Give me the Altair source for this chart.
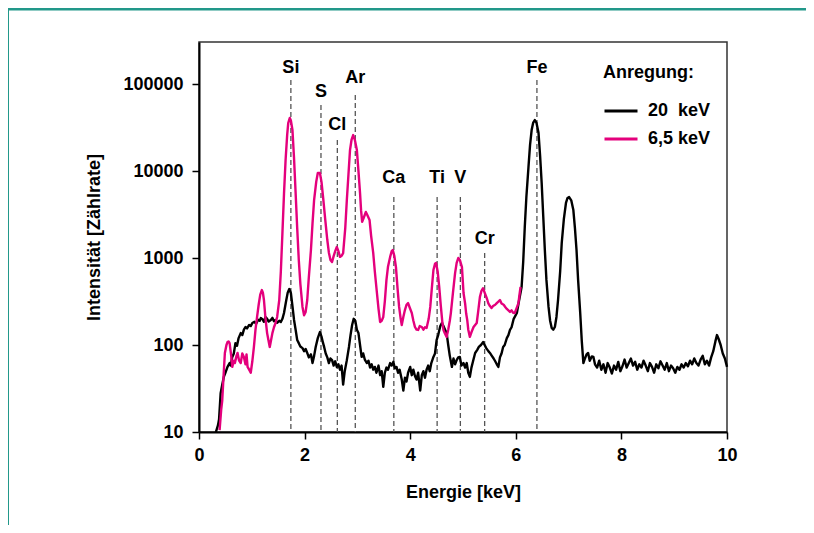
import altair as alt
import pandas as pd

# ---- data ----
e20 = [0.32,0.36,0.38,0.41,0.44,0.47,0.50,0.54,0.58,0.60,0.63,0.66,0.69,0.72,0.75,0.79,0.82,0.85,0.88,0.91,
       0.95,0.98,1.01,1.05,1.08,1.12,1.15,1.17,1.20,1.23,1.26,1.29,1.32,1.36,1.39,1.42,1.45,1.48,1.52,1.55,
       1.58,1.61,1.65,1.68,1.71,1.74,1.77,1.80,1.83,1.86,1.89,1.92,1.96,1.99,2.02,2.05,2.08,2.12,2.15,2.18,
       2.21,2.25,2.29,2.32,2.35,2.37,2.40,2.43,2.46,2.49,2.52,2.55,2.58,2.61,2.64,2.67,2.70,2.73,2.76,2.80,
       2.84,2.87,2.90,2.93,2.96,2.99,3.02,3.05,3.08,3.11,3.14,3.18,3.21,3.24,3.27,3.30,3.33,3.36,3.40,3.43,
       3.46,3.49,3.52,3.55,3.58,3.62,3.65,3.68,3.71,3.74,3.77,3.80,3.84,3.87,3.90,3.93,3.96,4.00,4.03,4.06,
       4.09,4.12,4.15,4.19,4.22,4.25,4.28,4.31,4.34,4.37,4.40,4.44,4.47,4.50,4.53,4.57,4.60,4.63,4.66,4.69,
       4.72,4.75,4.79,4.82,4.85,4.88,4.91,4.94,4.97,5.01,5.04,5.07,5.10,5.13,5.16,5.19,5.23,5.27,5.30,5.34,
       5.38,5.41,5.44,5.48,5.51,5.54,5.58,5.61,5.64,5.67,5.70,5.73,5.76,5.79,5.83,5.86,5.89,5.92,5.96,6.02,
       6.06,6.11,6.14,6.17,6.20,6.24,6.27,6.30,6.33,6.36,6.39,6.43,6.46,6.49,6.52,6.55,6.58,6.62,6.65,6.68,
       6.71,6.74,6.77,6.80,6.84,6.87,6.91,6.95,6.98,7.01,7.05,7.09,7.12,7.15,7.18,7.22,7.25,7.28,7.31,7.34,
       7.37,7.40,7.44,7.47,7.50,7.54,7.58,7.62,7.66,7.70,7.74,7.78,7.82,7.86,7.90,7.94,7.98,8.02,8.06,8.10,
       8.14,8.18,8.22,8.26,8.30,8.34,8.38,8.42,8.46,8.50,8.54,8.58,8.62,8.66,8.70,8.74,8.78,8.82,8.86,8.90,
       8.94,8.98,9.02,9.06,9.10,9.14,9.18,9.22,9.26,9.30,9.34,9.38,9.42,9.46,9.50,9.54,9.58,9.62,9.66,9.70,
       9.74,9.78,9.81,9.84,9.88,9.92,9.96,10.0]
c20 = [10,12,14,28,35,43,48,56,62,58,73,80,105,98,120,137,130,150,161,155,
       170,165,179,185,175,195,190,204,198,185,210,200,186,194,205,188,194,180,190,184,
       200,233,320,400,440,396,280,194,150,114,105,96,92,85,90,81,72,78,62,75,
       95,120,141,125,105,95,80,72,62,70,67,58,65,56,60,52,58,35,50,67,
       95,130,170,200,190,150,137,100,73,80,68,62,66,55,60,52,56,48,58,45,
       50,33,48,55,52,62,58,64,54,56,48,52,40,30,42,38,48,56,45,52,
       44,40,48,30,45,50,42,52,58,50,62,73,80,114,130,165,179,165,150,137,
       100,75,56,70,60,67,72,73,58,62,55,62,48,43,55,65,81,88,95,100,
       108,100,92,85,81,76,70,65,60,56,72,80,95,100,120,130,149,160,200,233,
       320,464,900,2270,5000,11100,20000,29600,36000,38500,36000,27500,15000,7280,3000,1236,560,274,190,157,
       150,161,210,329,700,1487,2800,4290,4900,5020,4600,3560,2200,1236,560,233,110,62,70,78,
       81,66,74,73,60,55,66,52,60,48,62,55,47,58,52,64,50,57,68,55,
       62,70,58,64,52,60,55,66,58,50,62,56,48,60,54,65,58,52,62,50,
       58,54,48,56,52,60,55,62,57,66,60,70,62,58,68,75,60,66,58,72,
       85,110,130,118,100,80,70,56]

e65 = [0.39,0.42,0.44,0.47,0.49,0.52,0.54,0.56,0.58,0.61,0.63,0.66,0.68,0.71,0.73,0.76,0.79,0.82,0.85,0.88,
       0.90,0.92,0.95,0.98,1.01,1.04,1.07,1.10,1.13,1.16,1.19,1.21,1.23,1.26,1.29,1.32,1.34,1.36,1.39,1.42,
       1.45,1.48,1.52,1.55,1.58,1.61,1.64,1.67,1.69,1.72,1.74,1.77,1.80,1.83,1.86,1.89,1.92,1.96,1.99,2.02,
       2.05,2.08,2.12,2.15,2.18,2.22,2.25,2.29,2.32,2.35,2.39,2.43,2.46,2.49,2.52,2.55,2.58,2.61,2.64,2.67,
       2.70,2.73,2.77,2.80,2.83,2.86,2.89,2.92,2.95,2.99,3.02,3.05,3.07,3.09,3.12,3.16,3.19,3.23,3.26,3.30,
       3.33,3.37,3.40,3.43,3.46,3.49,3.52,3.55,3.58,3.62,3.65,3.67,3.70,3.73,3.76,3.79,3.82,3.84,3.87,3.90,
       3.93,3.96,3.99,4.03,4.06,4.09,4.12,4.15,4.18,4.22,4.25,4.28,4.31,4.35,4.38,4.41,4.44,4.47,4.49,4.52,
       4.55,4.58,4.61,4.63,4.66,4.69,4.72,4.75,4.77,4.81,4.85,4.88,4.91,4.94,4.98,5.01,5.04,5.06,5.08,5.10,
       5.13,5.16,5.20,5.23,5.26,5.29,5.32,5.35,5.38,5.41,5.45,5.48,5.51,5.54,5.57,5.61,5.64,5.67,5.70,5.73,
       5.77,5.80,5.83,5.86,5.89,5.92,5.95,5.98,6.01,6.05,6.07,6.09]
c65 = [10.5,18,23,50,81,100,108,110,105,75,56,66,62,75,81,66,62,80,73,60,
       78,56,52,48,65,95,150,210,290,380,428,400,329,200,137,110,95,110,137,160,
       179,210,329,700,1940,5500,13400,26000,35600,40700,38000,29600,14000,5580,2200,950,500,274,220,240,
       329,600,1236,2500,4640,7500,9490,9490,7500,5020,2800,1610,1150,950,900,1050,1200,1336,1200,1030,
       1060,1135,2200,4640,9000,17400,23000,25900,23000,17400,10000,5580,3500,2600,2900,3380,3100,2740,1800,1135,
       700,396,260,184,190,210,320,558,800,1030,1200,1236,1050,786,450,274,200,170,210,252,
       290,303,270,233,190,161,150,149,165,161,150,160,157,200,274,450,728,860,877,700,
       464,280,180,149,135,124,150,190,233,400,670,880,1000,950,786,396,300,230,194,150,
       124,140,161,170,179,250,356,420,450,400,345,300,280,266,280,290,303,315,329,300,
       290,274,260,250,240,250,235,233,260,303,380,464]

series_names = ["20\u00a0\u00a0keV", "6,5 keV"]
series_colors = ["#000000", "#e4007c"]

elements = ["Si", "S", "Cl", "Ar", "Ca", "Ti", "V", "Cr", "Fe"]
el_energy = [1.74, 2.31, 2.62, 2.96, 3.69, 4.51, 4.95, 5.41, 6.40]
el_line_top = [111000, 57400, 22700, 74800, 5020, 5020, 5020, 1140, 111000]
el_label_y = [153000, 81000, 33800, 117000, 8300, 8300, 8300, 1650, 153000]

x_ticks = [0, 2, 4, 6, 8, 10]
y_ticks = [10, 100, 1000, 10000, 100000]

FONT = '"Liberation Sans", Arial, sans-serif'
FS = 18

df = pd.concat([
    pd.DataFrame({"E": e20, "I": c20, "s": series_names[0], "o": 0}),
    pd.DataFrame({"E": e65, "I": c65, "s": series_names[1], "o": 1}),
], ignore_index=True)

el = pd.DataFrame({"name": elements, "E": el_energy, "top": el_line_top,
                   "bottom": [10] * len(elements), "ly": el_label_y})
frame = pd.DataFrame({"k": [0]})

xs = alt.Scale(domain=[0, 10], nice=False)
ys = alt.Scale(type="log", domain=[10, 304000], nice=False)

lines = alt.Chart(df).mark_line(strokeWidth=2.4, strokeJoin="round").encode(
    x=alt.X("E:Q", scale=xs,
            axis=alt.Axis(values=x_ticks, title="Energie [keV]", grid=False, format="d",
                          labelFlush=False)),
    y=alt.Y("I:Q", scale=ys,
            axis=alt.Axis(values=y_ticks, title="Intensität [Zählrate]", grid=False, format="d")),
    color=alt.Color("s:N", scale=alt.Scale(domain=series_names, range=series_colors),
                    legend=alt.Legend(title="Anregung:", orient="none", legendX=404, legendY=22,
                                      symbolType="stroke", symbolSize=1089, symbolStrokeWidth=2.8,
                                      labelFontSize=FS, titleFontSize=FS, labelFont=FONT, titleFont=FONT,
                                      labelFontWeight="bold", titleFontWeight="bold",
                                      labelColor="black", titleColor="black",
                                      rowPadding=1, titlePadding=11, labelOffset=9, padding=0)),
    order="o:Q",
    detail="s:N",
)

dashes = alt.Chart(el).mark_rule(strokeDash=[5, 3], strokeWidth=1.3, color="#555").encode(
    x=alt.X("E:Q", scale=xs), y=alt.Y("top:Q", scale=ys), y2="bottom:Q")

labels = alt.Chart(el).mark_text(font=FONT, fontSize=FS, fontWeight="bold", color="black",
                                 baseline="middle", align="center").encode(
    x=alt.X("E:Q", scale=xs), y=alt.Y("ly:Q", scale=ys), text="name:N")

teal_top = alt.Chart(frame).mark_rule(color="#22988a", strokeWidth=3).encode(
    x=alt.value(-192), x2=alt.value(620), y=alt.value(-33))
teal_left = alt.Chart(frame).mark_rule(color="#22988a", strokeWidth=3).encode(
    x=alt.value(-191.5), y=alt.value(-33), y2=alt.value(500))

chart = alt.layer(teal_top, teal_left, dashes, lines, labels).properties(
    width=528, height=390,
    autosize=alt.AutoSizeParams(type="none"),
    padding={"left": 191, "top": 34, "right": 79, "bottom": 93},
).configure_view(stroke="#333", strokeWidth=1.5).configure_axis(
    labelFont=FONT, titleFont=FONT, labelFontSize=FS, titleFontSize=FS,
    labelFontWeight="bold", titleFontWeight="bold", labelColor="black", titleColor="black",
    domainColor="black", domainWidth=2, tickColor="black", tickWidth=1.5, tickSize=7,
).configure_axisX(labelPadding=7, titlePadding=19).configure_axisY(labelPadding=9, titlePadding=19)

chart.save("out.html", embed_options={"renderer": "svg", "actions": False})
